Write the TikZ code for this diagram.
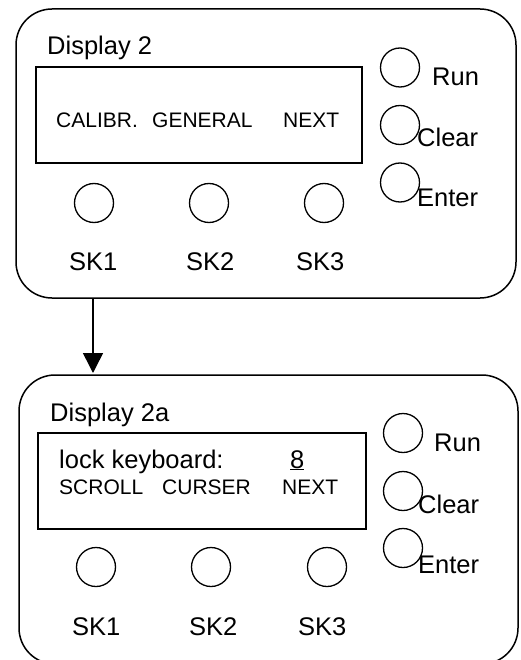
\documentclass[tikz,border=0pt]{standalone}
\usepackage{fontspec}
\setmainfont{Liberation Sans}
\usetikzlibrary{arrows.meta}
\begin{document}
\begin{tikzpicture}[x=1pt,y=-1pt,
  panel/.style={draw,line width=1.5pt,rounded corners=36pt},
  screen/.style={draw,line width=1.5pt},
  btn/.style={draw,circle,line width=1.3pt,minimum size=39pt,inner sep=0pt},
  big/.style={anchor=base west,inner sep=0pt,font=\fontsize{25.5}{28}\selectfont},
  small/.style={anchor=base west,inner sep=0pt,font=\fontsize{21}{24}\selectfont},
  link/.style={line width=1.5pt,-{Triangle[length=20pt,width=20pt]}}]
\useasboundingbox (0,0) rectangle (521,660);
\clip (0,0) rectangle (521,660);
% ---- top panel
\draw[panel] (16,9) rectangle (516,298);
\coordinate (p1) at (93,298);
\node[big] (d1) at (47,55) {Display 2};
\draw[screen] (36,67) rectangle (362,163);
\node[small] (c1) at (56,128) {CALIBR.};
\node[small] (g1) at (152,128) {GENERAL};
\node[small] (n1) at (283,128) {NEXT};
\node[btn] (b11) at (94,203) {};
\node[btn] (b12) at (209,203) {};
\node[btn] (b13) at (324,203) {};
\node[big] (s11) at (69,270) {SK1};
\node[big] (s12) at (186,270) {SK2};
\node[big] (s13) at (296,270) {SK3};
\node[btn] (r1) at (400,67.5) {};
\node[btn] (cl1) at (400,125) {};
\node[btn] (e1) at (400,182.5) {};
\node[big] (rt1) at (432,86) {Run};
\node[big] (ct1) at (417,147) {Clear};
\node[big] (et1) at (417,207) {Enter};
% ---- lower panel
\draw[panel] (19,375) rectangle (518,664);
\coordinate (p2) at (93,373);
\node[big] (d2) at (50,421) {Display 2a};
\draw[screen] (38,433) rectangle (366,529);
\node[big] (lk) at (59,468) {lock keyboard:};
\node[big] (eight) at (290,468) {\underline{8}};
\node[small] (sc) at (59,494) {SCROLL};
\node[small] (cu) at (162,494) {CURSER};
\node[small] (n2) at (282,494) {NEXT};
\node[btn] (b21) at (96,567) {};
\node[btn] (b22) at (211,567) {};
\node[btn] (b23) at (327,567) {};
\node[big] (s21) at (72,635) {SK1};
\node[big] (s22) at (189,635) {SK2};
\node[big] (s23) at (298,635) {SK3};
\node[btn] (r2) at (403,433) {};
\node[btn] (cl2) at (403,491) {};
\node[btn] (e2) at (403,548) {};
\node[big] (rt2) at (434,451) {Run};
\node[big] (ct2) at (418,513) {Clear};
\node[big] (et2) at (418,573) {Enter};
% ---- arrow
\draw[link] (p1) -- (p2);
\end{tikzpicture}
\end{document}
